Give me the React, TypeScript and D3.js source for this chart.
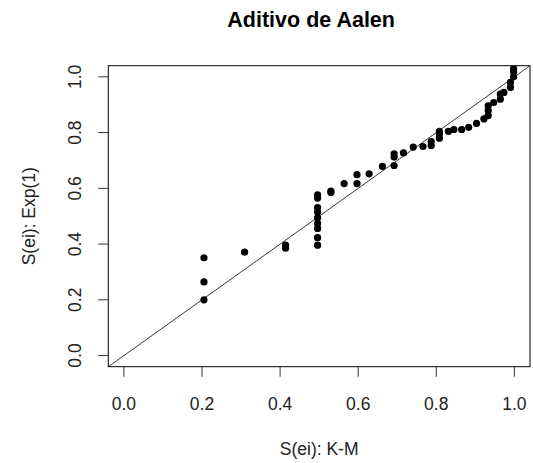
import React from "react";
import * as d3 from "d3";

const kmValues = [
  0.205, 0.205, 0.205, 0.309, 0.414, 0.414,
  0.496, 0.496, 0.496, 0.496, 0.496, 0.496, 0.496, 0.496, 0.496,
  0.530, 0.530, 0.564, 0.597, 0.597, 0.628, 0.662, 0.692, 0.692, 0.692,
  0.716, 0.741, 0.766, 0.787, 0.787, 0.808, 0.808, 0.808, 0.831, 0.845,
  0.865, 0.883, 0.903, 0.922, 0.933, 0.933, 0.933, 0.947, 0.964, 0.964,
  0.973, 0.990, 0.990, 0.998, 0.998, 0.998,
];
const expValues = [
  0.200, 0.264, 0.351, 0.371, 0.385, 0.396,
  0.396, 0.423, 0.456, 0.474, 0.494, 0.515, 0.531, 0.565, 0.577,
  0.585, 0.590, 0.617, 0.617, 0.649, 0.652, 0.679, 0.682, 0.712, 0.724,
  0.727, 0.748, 0.750, 0.754, 0.768, 0.780, 0.795, 0.804, 0.804, 0.811,
  0.811, 0.819, 0.833, 0.849, 0.861, 0.879, 0.896, 0.908, 0.920, 0.938,
  0.944, 0.962, 0.980, 1.000, 1.018, 1.030,
];
const tickValues = [0, 0.2, 0.4, 0.6, 0.8, 1.0];
const titleText = "Aditivo de Aalen";
const xLabel = "S(ei): K-M";
const yLabel = "S(ei): Exp(1)";

export default function App() {
  const W = 533, H = 463;
  const left = 108.3, right = 530, top = 65.7, bottom = 366.7;
  const x = d3.scaleLinear().domain([-0.04, 1.04]).range([left, right]);
  const y = d3.scaleLinear().domain([-0.04, 1.04]).range([bottom, top]);
  const font = "'Liberation Sans', Arial, sans-serif";
  return (
    <svg width={W} height={H} style={{ position: "absolute", left: 0, top: 0, background: "#fff" }}>
      <defs>
        <clipPath id="plotclip">
          <rect x={left} y={top} width={right - left} height={bottom - top} />
        </clipPath>
      </defs>
      <text x={(left + right) / 2 - 8} y={27} textAnchor="middle" fontFamily={font} fontWeight="bold" fontSize={21.5} fill="#000">
        {titleText}
      </text>
      <g clipPath="url(#plotclip)">
        <line x1={x(-0.1)} y1={y(-0.1)} x2={x(1.1)} y2={y(1.1)} stroke="#222" strokeWidth={0.9} />
        {kmValues.map((v, i) => (
          <circle key={i} cx={x(v)} cy={y(expValues[i])} r={3.6} fill="#000" />
        ))}
      </g>
      <rect x={left} y={top} width={right - left} height={bottom - top} fill="none" stroke="#000" strokeWidth={1} />
      {tickValues.map((t) => (
        <g key={"x" + t}>
          <line x1={x(t)} x2={x(t)} y1={bottom} y2={bottom + 10} stroke="#333" />
          <text x={x(t)} y={410} textAnchor="middle" fontFamily={font} fontSize={17.5} fill="#222">
            {d3.format(".1f")(t)}
          </text>
        </g>
      ))}
      {tickValues.map((t) => (
        <g key={"y" + t}>
          <line x1={left - 10} x2={left} y1={y(t)} y2={y(t)} stroke="#333" />
          <text transform={`translate(75,${y(t)}) rotate(-90)`} textAnchor="middle" dy="0.36em" fontFamily={font} fontSize={17.5} fill="#222">
            {d3.format(".1f")(t)}
          </text>
        </g>
      ))}
      <text x={(left + right) / 2} y={455} textAnchor="middle" fontFamily={font} fontSize={17.5} fill="#222">
        {xLabel}
      </text>
      <text transform={`translate(29,${(top + bottom) / 2}) rotate(-90)`} textAnchor="middle" dy="0.36em" fontFamily={font} fontSize={17.5} fill="#222">
        {yLabel}
      </text>
    </svg>
  );
}
